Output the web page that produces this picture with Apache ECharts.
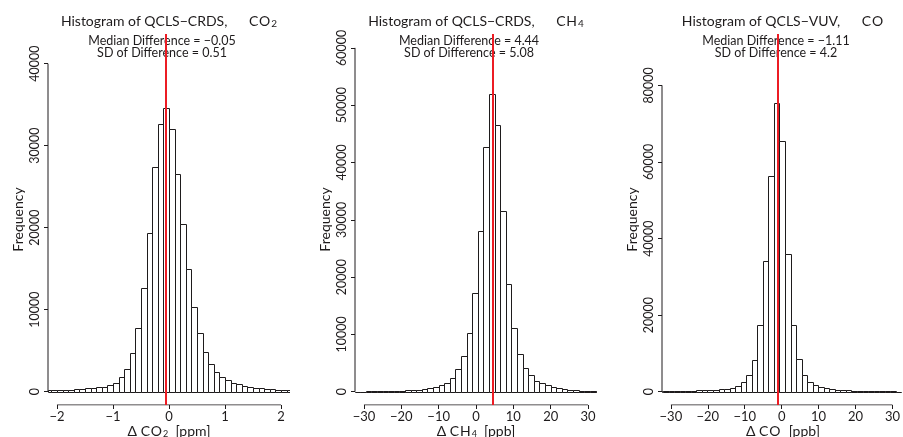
<!DOCTYPE html>
<html>
<head>
<meta charset="utf-8">
<script src="https://cdn.jsdelivr.net/npm/echarts@6/dist/echarts.min.js"></script>
<style>
  html, body { margin: 0; padding: 0; background: #fff; }
  #chart { width: 903px; height: 437px; }
</style>
</head>
<body>
<div id="chart"></div>
<script>
// histogram counts, one value per bin (left to right)
const co2Counts = [150, 180, 200, 220, 250, 300, 360, 400, 450, 530, 600, 760,
  1120, 1780, 2800, 4700, 7780, 12600, 19350, 27400, 32600, 34600,
  32000, 26600, 20500, 14960, 10350, 7100, 4820, 3430, 2450, 1850, 1400, 1100,
  880, 730, 570, 490, 410, 370, 300, 250, 200, 180];
const ch4Counts = [30, 30, 40, 50, 60, 80, 100, 130, 170, 230, 290, 350, 470, 640,
  870, 1160, 1600, 2400, 3900, 6200, 10300, 17200,
  28000, 42700, 51900, 46600, 31600, 18800, 11050, 6600, 4200, 2900, 1830, 1450,
  1180, 900, 610, 400, 290, 230, 170, 140, 100, 80];
const coCounts = [70, 90, 110, 140, 180, 220, 270, 320, 380, 440, 520, 600, 760,
  1050, 1480, 2440, 4450, 8300, 17300, 34100, 56400, 75400,
  65400, 35900, 17450, 8430, 4300, 2650, 1700, 1170, 920, 740, 560, 460, 380,
  300, 250, 200, 150, 120, 100, 80, 60, 50];

// bin layout: first left edge and bin width
const binStarts = [-2.2, -32.5, -33.6];
const binWidths = [0.1, 1.5, 1.5];

const medians = [-0.05, 4.44, -1.11];
const sds = [0.51, 5.08, 4.2];

const xTicks = [
  [-2, -1, 0, 1, 2],
  [-30, -20, -10, 0, 10, 20, 30],
  [-30, -20, -10, 0, 10, 20, 30]
];
const yTicks = [
  [0, 10000, 20000, 30000, 40000],
  [0, 10000, 20000, 30000, 40000, 50000, 60000],
  [0, 20000, 40000, 60000, 80000]
];
const xLimits = [[-2.16, 2.16], [-32.4, 32.4], [-32.4, 32.4]];
const yLimits = [[-1620, 43620], [-2320, 62420], [-3470, 93400]];

const titles = ["QCLS\u2212CRDS,", "QCLS\u2212CRDS,", "QCLS\u2212VUV,"];
const gasMain = ["C\u200aO", "C\u200aH", "C\u200aO"];
const gasSub = ["2", "4", ""];
const units = ["ppm", "ppb", "ppb"];

const allCounts = [co2Counts, ch4Counts, coCounts];

const FONT = "Lato, 'Liberation Sans', sans-serif";
const INK = "#1e1b1c";
const gridLefts = [48, 355, 662];
const GRID_TOP = 34, GRID_W = 242, GRID_H = 371;

function fmtNum(v) {
  return String(v).replace("-", "\u2212");
}

function binData(counts, start, width) {
  return counts.map((c, i) => {
    const lo = +(start + i * width).toFixed(4);
    return [lo, +(lo + width).toFixed(4), c];
  });
}

const chart = echarts.init(document.getElementById("chart"), null, { renderer: "canvas" });

const grids = [], xAxes = [], yAxes = [], series = [], graphics = [];

for (let p = 0; p < 3; p++) {
  const xMin = xLimits[p][0], xMax = xLimits[p][1];
  const yMin = yLimits[p][0];
  const xt = xTicks[p], yt = yTicks[p];

  grids.push({ left: gridLefts[p], top: GRID_TOP, width: GRID_W, height: GRID_H });

  xAxes.push({
    type: "value", gridIndex: p, min: xMin, max: xMax,
    axisLine: { show: false, onZero: false },
    splitLine: { show: false },
    axisTick: { customValues: xt, length: 4, lineStyle: { color: INK } },
    axisLabel: {
      customValues: xt, margin: 5, color: INK, fontFamily: FONT, fontSize: 13,
      formatter: fmtNum
    }
  });
  yAxes.push({
    type: "value", gridIndex: p, min: yMin, max: yLimits[p][1],
    axisLine: { show: false, onZero: false },
    splitLine: { show: false },
    axisTick: { customValues: yt, length: 4, lineStyle: { color: INK } },
    axisLabel: {
      customValues: yt, rotate: 90, margin: 7, color: INK, fontFamily: FONT, fontSize: 12.5,
      formatter: (v) => String(v)
    }
  });

  series.push({
    type: "custom", xAxisIndex: p, yAxisIndex: p, clip: true,
    data: binData(allCounts[p], binStarts[p], binWidths[p]),
    encode: { x: [0, 1], y: 2 },
    renderItem: (params, api) => {
      const lo = Math.max(api.value(0), xMin);
      const hi = Math.min(api.value(1), xMax);
      const a = api.coord([lo, api.value(2)]);
      const b = api.coord([hi, 0]);
      const x0 = Math.round(a[0]) + 0.5, x1 = Math.round(b[0]) + 0.5;
      const y0 = Math.round(a[1]) + 0.5, y1 = Math.round(b[1]) + 0.5;
      return {
        type: "rect",
        shape: { x: x0, y: y0, width: x1 - x0, height: y1 - y0 },
        style: { fill: "#fff", stroke: INK, lineWidth: 1 }
      };
    },
    markLine: {
      silent: true, symbol: "none", animation: false,
      label: { show: false },
      lineStyle: { color: "#ec1c24", width: 2, type: "solid" },
      data: [{ xAxis: medians[p] }]
    },
    z: 2
  });

  // axis lines span first to last tick, like base graphics
  series.push({
    type: "line", xAxisIndex: p, yAxisIndex: p, silent: true, symbol: "none",
    data: [[xMin, yt[0]], [xMin, yt[yt.length - 1]]],
    lineStyle: { color: INK, width: 1 }, z: 3
  });
  series.push({
    type: "line", xAxisIndex: p, yAxisIndex: p, silent: true, symbol: "none",
    data: [[xt[0], yMin], [xt[xt.length - 1], yMin]],
    lineStyle: { color: INK, width: 1 }, z: 3
  });

  const cx = gridLefts[p] + GRID_W / 2;
  graphics.push({
    type: "text", x: cx, y: 21,
    style: {
      text: "{n|Histogram of " + titles[p] + "      " + gasMain[p] + "}{s|" + gasSub[p] + "}",
      align: "center", verticalAlign: "middle",
      rich: {
        n: { fontFamily: FONT, fontSize: 14, fill: INK, lineHeight: 16, verticalAlign: "middle" },
        s: { fontFamily: FONT, fontSize: 10, fill: INK, lineHeight: 16, verticalAlign: "bottom", padding: [8, 0, 0, 1] }
      }
    }
  });
  graphics.push({
    type: "text", x: cx - 7, y: 41,
    style: {
      text: "Median Difference = " + fmtNum(medians[p]),
      align: "center", verticalAlign: "middle", fontFamily: FONT, fontSize: 12.5, fill: INK
    }
  });
  graphics.push({
    type: "text", x: cx - 7, y: 52.5,
    style: {
      text: "SD of Difference = " + fmtNum(sds[p]),
      align: "center", verticalAlign: "middle", fontFamily: FONT, fontSize: 12.5, fill: INK
    }
  });
  graphics.push({
    type: "text", x: gridLefts[p] - 30, y: GRID_TOP + GRID_H / 2, rotation: Math.PI / 2,
    style: {
      text: "Frequency", align: "center", verticalAlign: "middle",
      fontFamily: FONT, fontSize: 14, fill: INK
    }
  });
  graphics.push({
    type: "text", x: cx, y: 431,
    style: {
      text: "{n|\u0394 " + gasMain[p] + "}{s|" + gasSub[p] + "}{n|  [" + units[p] + "]}",
      align: "center", verticalAlign: "middle",
      rich: {
        n: { fontFamily: FONT, fontSize: 14, fill: INK, lineHeight: 16, verticalAlign: "middle" },
        s: { fontFamily: FONT, fontSize: 9, fill: INK, lineHeight: 16, verticalAlign: "bottom", padding: [9, 0, 0, 1] }
      }
    }
  });
}

chart.setOption({
  animation: false,
  backgroundColor: "#fff",
  grid: grids,
  xAxis: xAxes,
  yAxis: yAxes,
  series: series,
  graphic: graphics
});
</script>
</body>
</html>
